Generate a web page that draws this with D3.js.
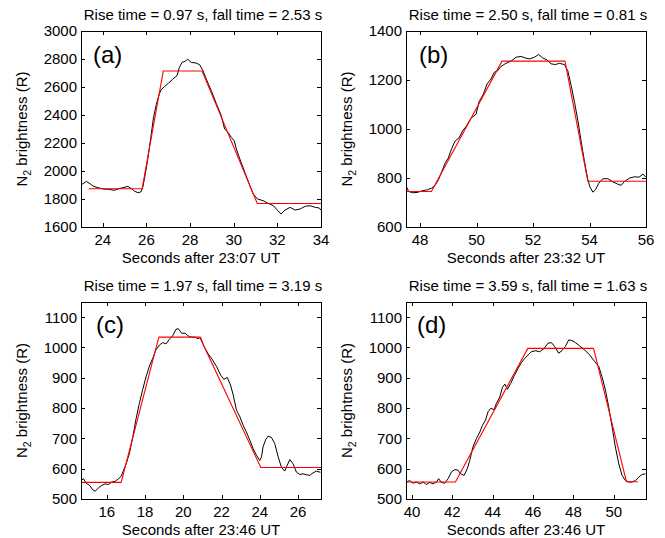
<!DOCTYPE html>
<html>
<head>
<meta charset="utf-8">
<script src="https://cdn.jsdelivr.net/npm/d3@7"></script>
<style>
  html, body { margin: 0; padding: 0; background: #fff; }
  svg { display: block; font-family: "Liberation Sans", Arial, sans-serif; }
</style>
</head>
<body>
<svg id="chart" width="665" height="538"></svg>
<script>
// ---- Measured N2 brightness (R) versus seconds after the reference time ----

// (a) 23:07 UT
const timeA = [23.02, 23.25, 23.43, 23.58, 23.82, 24.05, 24.28, 24.51, 24.74, 24.97, 25.15, 25.31, 25.46, 25.62, 25.74,
  25.83, 25.92, 26.05, 26.2, 26.32, 26.45, 26.54, 26.66, 26.82, 27.0, 27.2, 27.4, 27.51, 27.63, 27.77, 27.89, 28.05,
  28.28, 28.43, 28.58, 28.74, 28.97, 29.2, 29.43, 29.58, 29.74, 29.89, 30.02, 30.12, 30.28, 30.51, 30.74, 30.89,
  31.09, 31.35, 31.58, 31.82, 32.02, 32.17, 32.35, 32.58, 32.82, 33.05, 33.28, 33.51, 33.74, 33.92, 34.0];
const brightA = [1902, 1926, 1907, 1890, 1879, 1871, 1869, 1862, 1874, 1883, 1890, 1874, 1855, 1845, 1850,
  1883, 1955, 2074, 2240, 2379, 2474, 2526, 2579, 2602, 2626, 2655, 2681, 2740, 2776, 2783, 2798, 2776,
  2771, 2760, 2721, 2657, 2574, 2483, 2395, 2300, 2276, 2240, 2217, 2157, 2086, 1990, 1895, 1836,
  1800, 1788, 1769, 1752, 1717, 1693, 1721, 1740, 1721, 1729, 1748, 1752, 1740, 1736, 1720];

// (b) 23:32 UT
const timeB = [47.53, 47.59, 47.73, 47.9, 48.08, 48.26, 48.41, 48.53, 48.65, 48.77, 48.89, 49.0, 49.12, 49.24, 49.38,
  49.5, 49.64, 49.8, 49.98, 50.09, 50.24, 50.37, 50.51, 50.63, 50.75, 50.86, 51.04, 51.22, 51.4, 51.57, 51.73,
  51.87, 52.05, 52.2, 52.34, 52.49, 52.64, 52.79, 52.93, 53.11, 53.23, 53.35, 53.47, 53.59, 53.7, 53.82, 53.94,
  54.02, 54.12, 54.21, 54.33, 54.47, 54.65, 54.83, 55.0, 55.12, 55.24, 55.42, 55.6, 55.75, 55.89, 56.0];
const brightB = [762, 745, 740, 741, 748, 752, 759, 770, 793, 827, 862, 882, 921, 951, 964,
  992, 1012, 1044, 1060, 1112, 1142, 1184, 1204, 1232, 1238, 1255, 1268, 1277, 1293, 1296, 1290,
  1286, 1293, 1304, 1290, 1282, 1266, 1263, 1268, 1263, 1238, 1177, 1108, 1033, 951, 868, 793,
  762, 742, 752, 779, 797, 797, 784, 775, 770, 786, 800, 805, 803, 816, 803];

// (c) 23:46 UT
const timeC = [14.66, 14.78, 14.92, 15.1, 15.27, 15.39, 15.57, 15.74, 15.91, 16.09, 16.26, 16.43, 16.61, 16.75, 16.87,
  17.01, 17.18, 17.36, 17.53, 17.7, 17.88, 18.05, 18.23, 18.4, 18.57, 18.75, 18.92, 19.1, 19.27, 19.44, 19.62,
  19.74, 19.91, 20.09, 20.26, 20.43, 20.61, 20.78, 20.9, 21.08, 21.3, 21.53, 21.74, 21.95, 22.12, 22.3, 22.47,
  22.61, 22.78, 22.96, 23.13, 23.3, 23.48, 23.65, 23.83, 24.0, 24.09, 24.17, 24.31, 24.43, 24.61, 24.78, 24.96,
  25.13, 25.3, 25.43, 25.57, 25.74, 25.91, 26.09, 26.26, 26.43, 26.61, 26.78, 26.96, 27.17];
const brightC = [561, 567, 552, 545, 530, 526, 537, 545, 550, 548, 556, 558, 567, 575, 594,
  616, 650, 705, 765, 815, 862, 903, 939, 964, 992, 1008, 1016, 1012, 1027, 1038, 1060,
  1062, 1047, 1047, 1038, 1034, 1034, 1029, 1034, 1003, 979, 959, 937, 909, 895, 901, 876,
  843, 793, 771, 743, 721, 694, 666, 644, 627, 639, 672, 696, 707, 703, 683, 639,
  605, 592, 611, 630, 616, 589, 581, 583, 580, 578, 586, 592, 588];

// (d) 23:46 UT
const timeD = [39.72, 39.88, 40.05, 40.21, 40.38, 40.55, 40.71, 40.88, 41.04, 41.21, 41.32, 41.45, 41.62, 41.79, 41.95,
  42.12, 42.28, 42.41, 42.58, 42.74, 42.86, 43.02, 43.19, 43.36, 43.49, 43.64, 43.77, 43.9, 44.07, 44.18, 44.35,
  44.48, 44.6, 44.73, 44.89, 45.06, 45.26, 45.42, 45.59, 45.75, 45.92, 46.12, 46.33, 46.55, 46.74, 46.91, 47.07,
  47.27, 47.44, 47.6, 47.77, 47.93, 48.1, 48.31, 48.56, 48.81, 49.06, 49.26, 49.42, 49.59, 49.75, 49.92, 50.08,
  50.25, 50.41, 50.58, 50.74, 50.91, 51.07, 51.24, 51.4, 51.57];
const brightD = [556, 561, 552, 556, 550, 556, 548, 555, 550, 556, 567, 555, 552, 567, 589,
  597, 595, 583, 578, 600, 627, 672, 699, 721, 743, 760, 788, 799, 795, 815, 837,
  868, 879, 862, 881, 906, 931, 950, 964, 975, 986, 989, 986, 997, 1014, 1016, 1003,
  981, 990, 1003, 1025, 1023, 1016, 1005, 992, 975, 953, 937, 903, 859, 804, 738, 672,
  616, 578, 561, 556, 556, 561, 572, 581, 583];

// ---- Piecewise-linear (trapezoid) fits ----
const fitTimeA = [23.35, 25.8, 26.77, 28.55, 31.08, 34.0];
const fitBrightA = [1873, 1873, 2714, 2714, 1768, 1768];
const fitTimeB = [47.5, 48.4, 50.9, 53.13, 53.94, 56.0];
const fitBrightB = [745, 745, 1277, 1277, 787, 787];
const fitTimeC = [14.65, 16.75, 18.72, 20.86, 24.05, 27.2];
const fitBrightC = [555, 555, 1034, 1034, 604, 604];
const fitTimeD = [39.7, 42.15, 45.74, 49.0, 50.63, 51.2];
const fitBrightD = [556, 556, 997, 997, 557, 557];

// ---- Text and axes ----
const panelTags = ["(a)", "(b)", "(c)", "(d)"];
const panelTitles = [
  "Rise time = 0.97 s, fall time = 2.53 s",
  "Rise time = 2.50 s, fall time = 0.81 s",
  "Rise time = 1.97 s, fall time = 3.19 s",
  "Rise time = 3.59 s, fall time = 1.63 s"
];
const xAxisTitles = [
  "Seconds after 23:07 UT",
  "Seconds after 23:32 UT",
  "Seconds after 23:46 UT",
  "Seconds after 23:46 UT"
];
const xDomains = [[23, 34], [47.5, 56], [14.65, 27.2], [39.7, 51.6]];
const yDomains = [[1600, 3000], [600, 1400], [500, 1150], [500, 1150]];
const xTicks = [[24, 26, 28, 30, 32, 34], [48, 50, 52, 54, 56], [16, 18, 20, 22, 24, 26], [40, 42, 44, 46, 48, 50]];
const yTicks = [
  [1600, 1800, 2000, 2200, 2400, 2600, 2800, 3000],
  [600, 800, 1000, 1200, 1400],
  [500, 600, 700, 800, 900, 1000, 1100],
  [500, 600, 700, 800, 900, 1000, 1100]
];

// ---- Layout of the 2x2 grid (pixels) ----
const boxes = [
  { left: 81, right: 321, top: 31, bottom: 227, tagDx: 12, tagDy: 32 },
  { left: 406, right: 646, top: 31, bottom: 227, tagDx: 13, tagDy: 32 },
  { left: 81, right: 321, top: 302, bottom: 499, tagDx: 15, tagDy: 31 },
  { left: 406, right: 646, top: 302, bottom: 499, tagDx: 11, tagDy: 31 }
];

const series = [
  { t: timeA, b: brightA, ft: fitTimeA, fb: fitBrightA },
  { t: timeB, b: brightB, ft: fitTimeB, fb: fitBrightB },
  { t: timeC, b: brightC, ft: fitTimeC, fb: fitBrightC },
  { t: timeD, b: brightD, ft: fitTimeD, fb: fitBrightD }
];

const svg = d3.select("#chart");
const defs = svg.append("defs");
const FONT = 15, TICK = 4;

boxes.forEach((box, i) => {
  const x = d3.scaleLinear().domain(xDomains[i]).range([box.left, box.right]);
  const y = d3.scaleLinear().domain(yDomains[i]).range([box.bottom, box.top]);
  const g = svg.append("g");

  defs.append("clipPath").attr("id", "clip" + i)
    .append("rect")
    .attr("x", box.left).attr("y", box.top)
    .attr("width", box.right - box.left).attr("height", box.bottom - box.top);

  // data trace and fit
  const plot = g.append("g").attr("clip-path", `url(#clip${i})`);
  const s = series[i];
  const line = d3.line().x(d => x(d[0])).y(d => y(d[1]));
  plot.append("path")
    .datum(d3.zip(s.t, s.b))
    .attr("d", line)
    .attr("fill", "none").attr("stroke", "#000").attr("stroke-width", 1)
    .attr("stroke-linejoin", "round");
  plot.append("path")
    .datum(d3.zip(s.ft, s.fb))
    .attr("d", line)
    .attr("fill", "none").attr("stroke", "#ff0000").attr("stroke-width", 1.1);

  // inward ticks on all four sides
  const tk = g.append("g").attr("stroke", "#000").attr("stroke-width", 1);
  xTicks[i].forEach(v => {
    const px = Math.round(x(v)) + 0.5;
    tk.append("line").attr("x1", px).attr("x2", px).attr("y1", box.bottom).attr("y2", box.bottom - TICK);
    tk.append("line").attr("x1", px).attr("x2", px).attr("y1", box.top).attr("y2", box.top + TICK);
  });
  yTicks[i].forEach(v => {
    const py = Math.round(y(v)) + 0.5;
    tk.append("line").attr("x1", box.left).attr("x2", box.left + TICK).attr("y1", py).attr("y2", py);
    tk.append("line").attr("x1", box.right).attr("x2", box.right - TICK).attr("y1", py).attr("y2", py);
  });

  // axes box
  g.append("rect")
    .attr("x", box.left + 0.5).attr("y", box.top + 0.5)
    .attr("width", box.right - box.left).attr("height", box.bottom - box.top)
    .attr("fill", "none").attr("stroke", "#000").attr("stroke-width", 1);

  // tick labels
  g.append("g").selectAll("text").data(xTicks[i]).join("text")
    .attr("x", d => x(d)).attr("y", box.bottom + 18)
    .attr("text-anchor", "middle").attr("font-size", FONT)
    .text(d => d);
  g.append("g").selectAll("text").data(yTicks[i]).join("text")
    .attr("x", box.left - 4).attr("y", d => y(d)).attr("dy", "0.36em")
    .attr("text-anchor", "end").attr("font-size", FONT)
    .text(d => d);

  // titles
  const cx = (box.left + box.right) / 2;
  g.append("text").attr("x", cx + 2).attr("y", box.top - 11)
    .attr("text-anchor", "middle").attr("font-size", FONT).text(panelTitles[i]);
  g.append("text").attr("x", cx).attr("y", box.bottom + 35.5)
    .attr("text-anchor", "middle").attr("font-size", FONT).text(xAxisTitles[i]);

  // y-axis label with subscript
  const cy = (box.top + box.bottom) / 2;
  const yl = g.append("text")
    .attr("transform", `translate(${box.left - 54},${cy}) rotate(-90)`)
    .attr("text-anchor", "middle").attr("font-size", FONT);
  yl.append("tspan").text("N");
  yl.append("tspan").attr("font-size", 10.5).attr("dy", 4).text("2");
  yl.append("tspan").attr("dy", -4).text(" brightness (R)");

  // panel tag
  g.append("text").attr("x", box.left + box.tagDx).attr("y", box.top + box.tagDy)
    .attr("font-size", 24).text(panelTags[i]);
});
</script>
</body>
</html>
